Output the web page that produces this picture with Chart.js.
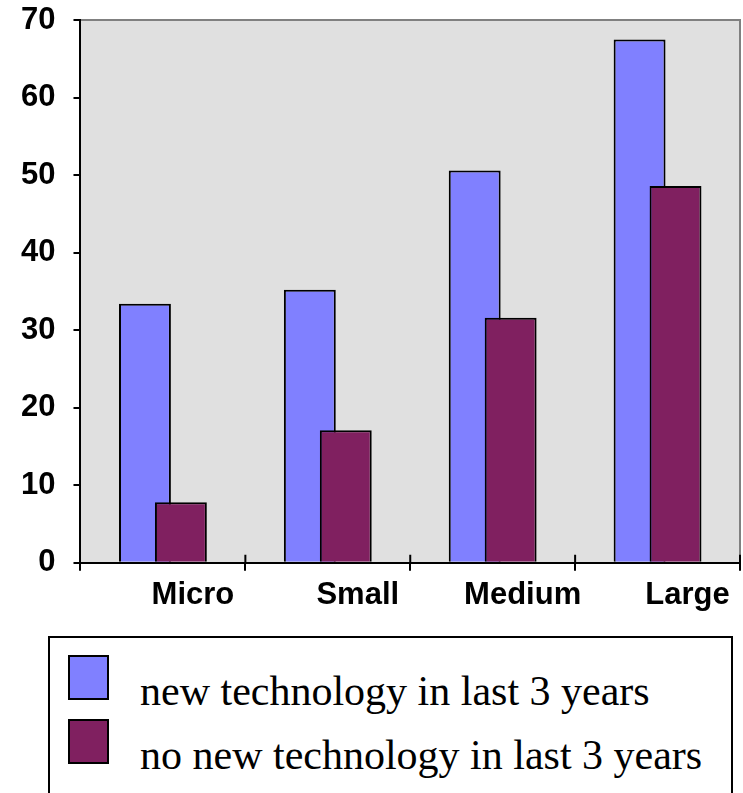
<!DOCTYPE html>
<html>
<head>
<meta charset="utf-8">
<script src="https://cdn.jsdelivr.net/npm/chart.js@4"></script>
<style>
  html, body { margin: 0; padding: 0; background: #fff; overflow: hidden; }
  #wrap { position: relative; width: 743px; height: 793px; }
  #box { position: absolute; left: 0; top: 0; width: 743px; height: 630px; }
  #legend {
    position: absolute; left: 48px; top: 636px; width: 685px; height: 200px;
    border: 2px solid #000; box-sizing: border-box;
    font-family: "Liberation Serif", "Times New Roman", serif; font-size: 42px; color: #000;
  }
  .item { position: absolute; left: 0; white-space: nowrap; }
  .swatch { position: absolute; left: 18px; width: 41px; height: 45px; border: 2px solid #000; box-sizing: border-box; }
  .label { position: absolute; left: 90px; }
</style>
</head>
<body>
<div id="wrap">
  <div id="box"><canvas id="myChart"></canvas></div>
  <div id="legend"></div>
</div>
<script>
const categories = ["Micro", "Small", "Medium", "Large"];
const seriesNames = ["new technology in last 3 years", "no new technology in last 3 years"];
const newTech = [33.4, 35.2, 50.6, 67.5];
const noNewTech = [7.8, 17.1, 31.6, 48.6];
const yTicks = [0, 10, 20, 30, 40, 50, 60, 70];
const colors = ["#8080ff", "#802060"];

const ctx = document.getElementById("myChart");

// grey plot area with a thin grey frame on top and right
const plotArea = {
    id: "plotArea",
    beforeDraw(chart) {
        const a = chart.chartArea;
        const c = chart.ctx;
        c.save();
        c.fillStyle = "#e0e0e0";
        c.fillRect(a.left, a.top, a.right - a.left, a.bottom - a.top);
        c.strokeStyle = "#808080";
        c.lineWidth = 2;
        c.beginPath();
        c.moveTo(a.left, a.top);
        c.lineTo(a.right, a.top);
        c.lineTo(a.right, a.bottom);
        c.stroke();
        c.restore();
    },
    // second series painted over the first one
    beforeDatasetsDraw(chart) {
        for (let i = 0; i < chart.data.datasets.length; i++) {
            chart.getDatasetMeta(i).controller.draw();
        }
        return false;
    },
    // category ticks also poke up into the plot
    afterDraw(chart) {
        const x = chart.scales.x;
        const c = chart.ctx;
        const n = categories.length;
        c.save();
        c.strokeStyle = "#000";
        c.lineWidth = 2;
        c.beginPath();
        for (let i = 1; i <= n; i++) {
            const px = x.left + (x.right - x.left) * i / n;
            c.moveTo(px, x.top - 8);
            c.lineTo(px, x.top);
        }
        c.stroke();
        c.restore();
    }
};

let data = {
    labels: categories,
    datasets: [{
        label: seriesNames[0],
        data: newTech,
        backgroundColor: colors[0],
        borderColor: "#000",
        borderWidth: 2
    }, {
        label: seriesNames[1],
        data: noNewTech,
        backgroundColor: colors[1],
        borderColor: "#000",
        borderWidth: 2
    }]
};

let config = {
    type: "bar",
    data: data,
    options: {
        maintainAspectRatio: false,
        animation: false,
        categoryPercentage: 0.436,
        barPercentage: 1.444,
        layout: { padding: { left: 3, top: 20, right: 3, bottom: 10 } },
        plugins: {
            legend: { display: false },
            tooltip: { enabled: false }
        },
        scales: {
            x: {
                grid: { drawOnChartArea: false, tickLength: 8, color: "#000", lineWidth: 2 },
                border: { color: "#000", width: 2 },
                ticks: {
                    color: "#000",
                    labelOffset: 30,
                    padding: 6,
                    font: { family: "'Liberation Sans', Arial, sans-serif", size: 31, weight: "bold" }
                }
            },
            y: {
                min: 0,
                max: 70,
                afterBuildTicks(scale) {
                    scale.ticks = yTicks.map(v => ({ value: v }));
                },
                afterFit(scale) {
                    scale.paddingTop = 0;
                },
                grid: { drawOnChartArea: false, tickLength: 7, color: "#000", lineWidth: 2 },
                border: { color: "#000", width: 2 },
                ticks: {
                    color: "#000",
                    padding: 18,
                    font: { family: "'Liberation Sans', Arial, sans-serif", size: 31, weight: "bold" }
                }
            }
        }
    },
    plugins: [plotArea]
};

let myChart = new Chart(ctx, config);

// legend box under the chart
const legend = document.getElementById("legend");
seriesNames.forEach((name, i) => {
    const item = document.createElement("div");
    item.className = "item";
    item.style.top = (17 + i * 64) + "px";
    const sw = document.createElement("div");
    sw.className = "swatch";
    sw.style.background = colors[i];
    const lb = document.createElement("div");
    lb.className = "label";
    lb.style.top = "12px";
    lb.textContent = name;
    item.appendChild(sw);
    item.appendChild(lb);
    legend.appendChild(item);
});
</script>
</body>
</html>
